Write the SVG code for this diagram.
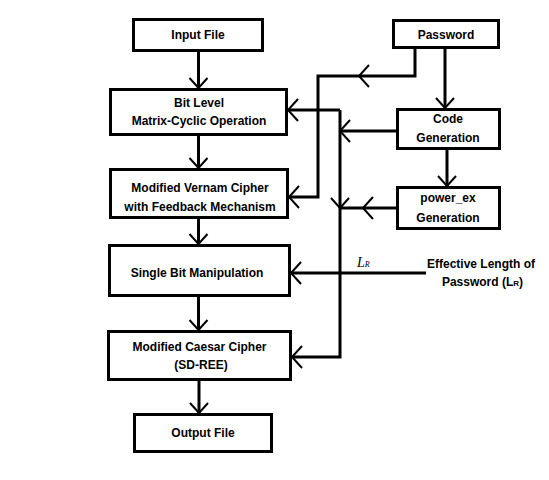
<svg xmlns="http://www.w3.org/2000/svg" width="549" height="480" viewBox="0 0 549 480">
<style>
.box{fill:#fff;stroke:#000;stroke-width:3}
.t{font-family:"Liberation Sans",Arial,sans-serif;font-weight:bold;font-size:12px;text-anchor:middle;fill:#000}
.c{fill:none;stroke:#000;stroke-width:3}
.ah{fill:none;stroke:#000;stroke-width:2}
</style>
<defs>
<marker id="a" markerUnits="userSpaceOnUse" orient="auto" markerWidth="30" markerHeight="30" style="overflow:visible"><path class="ah" d="M-10,-11 L0,0 L-10,11"/></marker>
<marker id="d" markerUnits="userSpaceOnUse" orient="auto" markerWidth="30" markerHeight="30" style="overflow:visible"><path class="ah" d="M-10,-9 L0,0 L-10,9"/></marker>
</defs>
<rect width="549" height="480" fill="#fff"/>
<g id="connectors">
<path class="c" d="M198.5,52 V88" marker-end="url(#d)"/>
<path class="c" d="M198.5,136 V168" marker-end="url(#d)"/>
<path class="c" d="M198.5,219 V244" marker-end="url(#d)"/>
<path class="c" d="M198.5,297 V330" marker-end="url(#d)"/>
<path class="c" d="M199,381 V413" marker-end="url(#d)"/>
<path class="c" d="M445,49 V108" marker-end="url(#d)"/>
<path class="c" d="M447,150 V186" marker-end="url(#d)"/>
<path class="c" d="M415,49 V76 H359" marker-end="url(#a)"/>
<path class="c" d="M360,76 H318 V197 H289" marker-end="url(#a)"/>
<path class="c" d="M396,131 H340" marker-end="url(#a)"/>
<path class="c" d="M396,208 H363" marker-end="url(#a)"/>
<path class="c" d="M364,208 H340"/>
<path class="c" d="M340,110 H288" marker-end="url(#a)"/>
<path class="c" d="M340,110 V208" marker-end="url(#d)"/>
<path class="c" d="M340,207 V357 H292" marker-end="url(#a)"/>
<path class="c" d="M426,273 H291" marker-end="url(#a)"/>
</g>
<g id="input"><rect class="box" x="133.5" y="19.5" width="129" height="31"/><text class="t" x="198" y="39">Input File</text></g>
<g id="password"><rect class="box" x="393.5" y="20.5" width="105" height="27"/><text class="t" x="446" y="38.5">Password</text></g>
<g id="bitlevel"><rect class="box" x="110.5" y="89.5" width="176" height="45"/><text class="t" x="199" y="107">Bit Level</text><text class="t" x="199" y="124.5">Matrix-Cyclic Operation</text></g>
<g id="codegen"><rect class="box" x="397.5" y="109.5" width="102" height="39"/><text class="t" x="448" y="122.5">Code</text><text class="t" x="448" y="142">Generation</text></g>
<g id="vernam"><rect class="box" x="110.5" y="169.5" width="177" height="48"/><text class="t" x="200" y="192">Modified Vernam Cipher</text><text class="t" x="200" y="210.5">with Feedback Mechanism</text></g>
<g id="powerex"><rect class="box" x="397.5" y="187.5" width="102" height="41"/><text class="t" x="448" y="202">power_ex</text><text class="t" x="448" y="222">Generation</text></g>
<g id="singlebit"><rect class="box" x="109.5" y="245.5" width="180" height="50"/><text class="t" x="197" y="277">Single Bit Manipulation</text></g>
<g id="caesar"><rect class="box" x="108.5" y="331.5" width="182" height="48"/><text class="t" x="199.5" y="350.5">Modified Caesar Cipher</text><text class="t" x="201" y="368.5">(SD-REE)</text></g>
<g id="output"><rect class="box" x="134.5" y="414.5" width="137" height="37"/><text class="t" x="203" y="437">Output File</text></g>
<g id="effective"><text class="t" x="481" y="267.5">Effective Length of</text><text class="t" x="482.5" y="286">Password (L<tspan font-size="8">R</tspan>)</text></g>
<text x="357" y="267" font-family="Liberation Serif,serif" font-style="italic" font-size="14">L<tspan font-size="8" dy="0">R</tspan></text>
</svg>
